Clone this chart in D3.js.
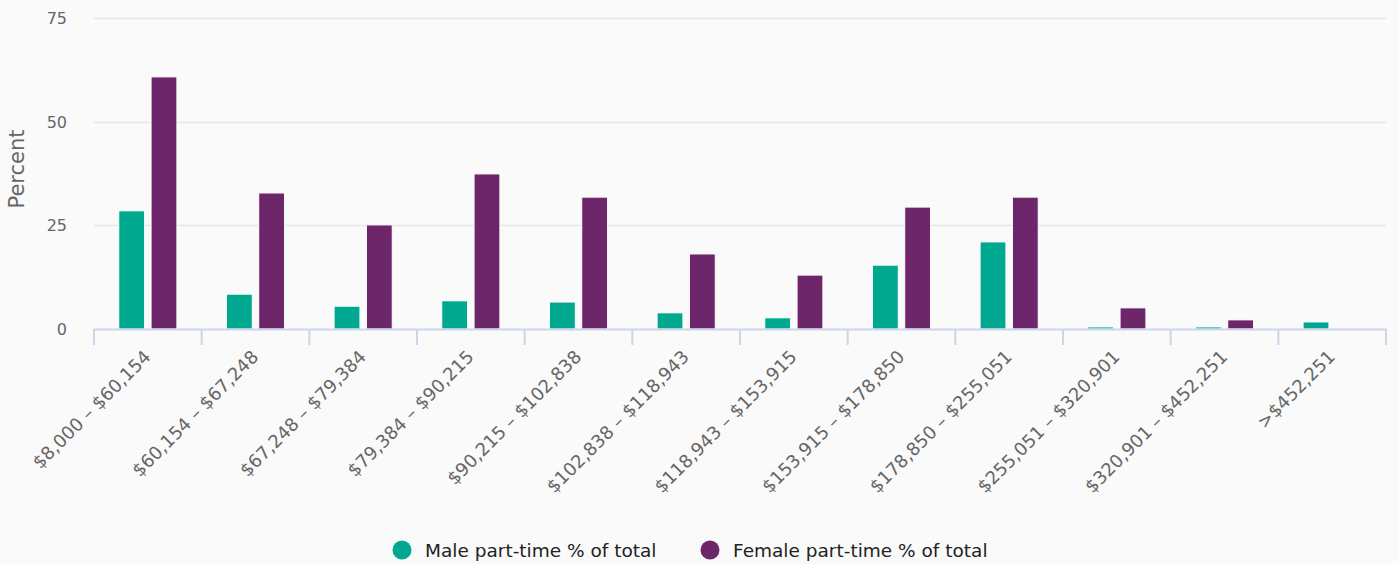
<!DOCTYPE html>
<html><head><meta charset="utf-8">
<script src="https://cdn.jsdelivr.net/npm/d3@7"></script>
<style>
html,body{margin:0;padding:0;background:#fafafa;}
svg{display:block;}
text{font-family:"DejaVu Sans",sans-serif;}
</style></head>
<body>
<svg id="chart" width="1399" height="564"></svg>
<script>
const categories = ["$8,000 – $60,154","$60,154 – $67,248","$67,248 – $79,384","$79,384 – $90,215","$90,215 – $102,838","$102,838 – $118,943","$118,943 – $153,915","$153,915 – $178,850","$178,850 – $255,051","$255,051 – $320,901","$320,901 – $452,251",">$452,251"];
const seriesNames = ["Male part-time % of total","Female part-time % of total"];
const maleValues = [28.5, 8.4, 5.5, 6.8, 6.5, 3.9, 2.7, 15.4, 21.0, 0.5, 0.5, 1.7];
const femaleValues = [60.8, 32.8, 25.1, 37.4, 31.8, 18.1, 13.0, 29.4, 31.8, 5.1, 2.2, null];
const yTicks = [0, 25, 50, 75];
const colors = ["#00a88f", "#6c2669"];

const svg = d3.select("#chart");
const pLeft = 94, pRight = 1386, pTop = 18, pBottom = 329;

const x = d3.scaleBand().domain(categories).range([pLeft, pRight]).paddingInner(0).paddingOuter(0);
const bw = x.bandwidth();
const xs = d3.scaleBand().domain([0,1]).range([bw*0.2, bw*0.8]).paddingInner(0.2).paddingOuter(0.1);
const y = d3.scaleLinear().domain([0, 75]).range([pBottom, pTop]);

// gridlines
svg.append("g").selectAll("line").data(yTicks.filter(d=>d>0)).join("line")
  .attr("x1", pLeft).attr("x2", pRight)
  .attr("y1", d=>Math.round(y(d))+0.5).attr("y2", d=>Math.round(y(d))+0.5)
  .attr("stroke", "#e6e6e6").attr("stroke-width", 1.5);

// y axis labels
const yAxis = d3.axisLeft(y).tickValues(yTicks).tickSize(0).tickPadding(0);
const gy = svg.append("g").attr("transform", `translate(${67},0)`).call(yAxis);
gy.select(".domain").remove();
gy.selectAll("text").attr("fill", "#666").style("font-size", "16px").style("font-family", "DejaVu Sans").attr("dy", "0.35em");

svg.append("text").attr("transform", `translate(24,169) rotate(-90)`)
  .attr("text-anchor", "middle").attr("fill", "#666").style("font-size", "21px").text("Percent");

// bars
const data = categories.map((c,i)=>({c, v:[maleValues[i], femaleValues[i]]}));
const groups = svg.append("g").selectAll("g").data(data).join("g")
  .attr("transform", d=>`translate(${x(d.c)},0)`);
groups.selectAll("rect").data(d=>d.v.map((v,k)=>({v,k})).filter(e=>e.v!=null)).join("rect")
  .attr("x", e=>xs(e.k)).attr("width", xs.bandwidth())
  .attr("y", e=>y(e.v)).attr("height", e=>pBottom - y(e.v))
  .attr("fill", e=>colors[e.k]).attr("stroke", "#ffffff").attr("stroke-width", 1);

// x axis
const xAxisLine = svg.append("g");
xAxisLine.append("line").attr("x1", pLeft).attr("x2", pRight+1).attr("y1", pBottom+0.5).attr("y2", pBottom+0.5)
  .attr("stroke", "#ccd6eb").attr("stroke-width", 2);
const tickPos = categories.map(c=>x(c)).concat([pRight]);
xAxisLine.selectAll("line.tick").data(tickPos).join("line").attr("class","tick")
  .attr("x1", d=>d).attr("x2", d=>d).attr("y1", pBottom).attr("y2", pBottom+16)
  .attr("stroke", "#ccd6eb").attr("stroke-width", 2);
svg.append("g").selectAll("text").data(categories).join("text")
  .attr("transform", d=>`translate(${x(d)+bw/2+4},${pBottom+29}) rotate(-45)`)
  .attr("text-anchor", "end").attr("fill", "#666").style("font-size", "18px")
  .text(d=>d);

// legend
const legendItems = [{name: seriesNames[0], color: colors[0], cx: 402, tx: 425},
                     {name: seriesNames[1], color: colors[1], cx: 710, tx: 733}];
const lg = svg.append("g");
lg.selectAll("circle").data(legendItems).join("circle")
  .attr("cx", d=>d.cx).attr("cy", 550).attr("r", 9.5).attr("fill", d=>d.color);
lg.selectAll("text").data(legendItems).join("text")
  .attr("x", d=>d.tx).attr("y", 557).attr("fill", "#222").style("font-size", "18.5px")
  .text(d=>d.name);
</script>
</body></html>
